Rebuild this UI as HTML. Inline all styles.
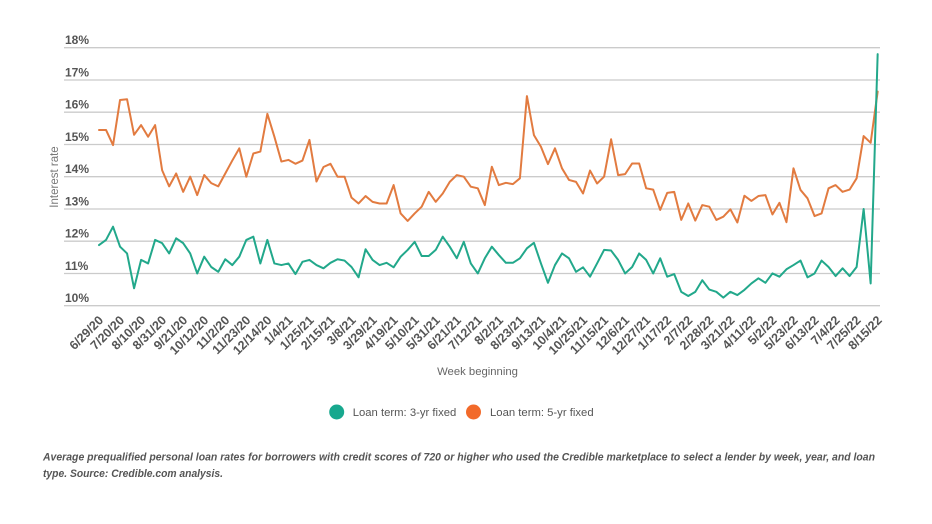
<!DOCTYPE html>
<html><head><meta charset="utf-8"><style>
html,body{margin:0;padding:0;background:#fff;}
svg{display:block;}
text{font-family:"Liberation Sans",sans-serif;}
</style></head><body>
<svg width="932" height="524" viewBox="0 0 932 524" xmlns="http://www.w3.org/2000/svg">
<rect width="932" height="524" fill="#fff"/>
<g stroke="#cbcbcb" stroke-width="1.3">
<line x1="64" y1="47.7" x2="880" y2="47.7"/>
<line x1="64" y1="80" x2="880" y2="80"/>
<line x1="64" y1="112.2" x2="880" y2="112.2"/>
<line x1="64" y1="144.5" x2="880" y2="144.5"/>
<line x1="64" y1="176.7" x2="880" y2="176.7"/>
<line x1="64" y1="209" x2="880" y2="209"/>
<line x1="64" y1="241.2" x2="880" y2="241.2"/>
<line x1="64" y1="273.5" x2="880" y2="273.5"/>
<line x1="64" y1="305.7" x2="880" y2="305.7"/>
</g>
<g font-size="12" fill="#555" font-weight="bold">
<text x="65" y="44.2">18%</text>
<text x="65" y="76.5">17%</text>
<text x="65" y="108.7">16%</text>
<text x="65" y="141">15%</text>
<text x="65" y="173.2">14%</text>
<text x="65" y="205.5">13%</text>
<text x="65" y="237.7">12%</text>
<text x="65" y="270">11%</text>
<text x="65" y="302.2">10%</text>
</g>
<text transform="translate(58,177) rotate(-90)" text-anchor="middle" font-size="11.5" fill="#777">Interest rate</text>

<g transform="translate(99,628.2) scale(7.015,-32.25)" fill="none" stroke-linejoin="round" stroke-linecap="round">
<polyline vector-effect="non-scaling-stroke" stroke="#e27b40" stroke-width="2" points="0,15.45 1,15.45 2,14.98 3,16.38 4,16.4 5,15.3 6,15.6 7,15.24 8,15.6 9,14.2 10,13.7 11,14.1 12,13.53 13,14.0 14,13.43 15,14.05 16,13.8 17,13.7 18,14.1 19,14.5 20,14.88 21,14.0 22,14.72 23,14.78 24,15.95 25,15.24 26,14.47 27,14.52 28,14.4 29,14.5 30,15.14 31,13.85 32,14.3 33,14.4 34,14.0 35,14.0 36,13.35 37,13.17 38,13.4 39,13.22 40,13.17 41,13.17 42,13.74 43,12.86 44,12.63 45,12.86 46,13.07 47,13.53 48,13.22 49,13.48 50,13.84 51,14.05 52,14.0 53,13.69 54,13.64 55,13.12 56,14.31 57,13.74 58,13.81 59,13.77 60,13.95 61,16.5 62,15.29 63,14.93 64,14.39 65,14.88 66,14.26 67,13.9 68,13.84 69,13.48 70,14.19 71,13.79 72,14.0 73,15.16 74,14.05 75,14.08 76,14.41 77,14.41 78,13.64 79,13.6 80,12.97 81,13.5 82,13.53 83,12.66 84,13.17 85,12.64 86,13.12 87,13.07 88,12.66 89,12.76 90,12.99 91,12.58 92,13.41 93,13.25 94,13.4 95,13.43 96,12.83 97,13.19 98,12.59 99,14.26 100,13.59 101,13.33 102,12.78 103,12.86 104,13.64 105,13.74 106,13.53 107,13.6 108,13.95 109,15.26 110,15.05 111,16.64"/>
<polyline vector-effect="non-scaling-stroke" stroke="#22a88b" stroke-width="2" points="0,11.88 1,12.04 2,12.45 3,11.83 4,11.62 5,10.54 6,11.42 7,11.31 8,12.04 9,11.94 10,11.62 11,12.09 12,11.94 13,11.62 14,11.0 15,11.52 16,11.2 17,11.05 18,11.44 19,11.26 20,11.52 21,12.04 22,12.14 23,11.31 24,12.04 25,11.31 26,11.26 27,11.31 28,10.98 29,11.36 30,11.42 31,11.26 32,11.16 33,11.33 34,11.44 35,11.4 36,11.2 37,10.88 38,11.75 39,11.42 40,11.26 41,11.33 42,11.19 43,11.52 44,11.73 45,11.98 46,11.54 47,11.54 48,11.73 49,12.14 50,11.83 51,11.47 52,11.98 53,11.31 54,11.0 55,11.47 56,11.83 57,11.57 58,11.33 59,11.33 60,11.47 61,11.78 62,11.95 63,11.31 64,10.71 65,11.26 66,11.62 67,11.47 68,11.05 69,11.19 70,10.9 71,11.31 72,11.73 73,11.71 74,11.42 75,11.0 76,11.2 77,11.62 78,11.42 79,11.0 80,11.47 81,10.9 82,10.98 83,10.43 84,10.3 85,10.43 86,10.79 87,10.5 88,10.43 89,10.25 90,10.43 91,10.33 92,10.49 93,10.69 94,10.85 95,10.71 96,11.0 97,10.9 98,11.13 99,11.26 100,11.4 101,10.88 102,11.0 103,11.4 104,11.2 105,10.92 106,11.16 107,10.92 108,11.2 109,13.0 110,10.69 111,17.8"/>
</g>

<g font-size="12.5" fill="#555" font-weight="bold" text-anchor="end">
<text transform="translate(104,321) rotate(-45)">6/29/20</text>
<text transform="translate(125,321) rotate(-45)">7/20/20</text>
<text transform="translate(146.1,321) rotate(-45)">8/10/20</text>
<text transform="translate(167.1,321) rotate(-45)">8/31/20</text>
<text transform="translate(188.2,321) rotate(-45)">9/21/20</text>
<text transform="translate(209.2,321) rotate(-45)">10/12/20</text>
<text transform="translate(230.3,321) rotate(-45)">11/2/20</text>
<text transform="translate(251.3,321) rotate(-45)">11/23/20</text>
<text transform="translate(272.4,321) rotate(-45)">12/14/20</text>
<text transform="translate(293.4,321) rotate(-45)">1/4/21</text>
<text transform="translate(314.5,321) rotate(-45)">1/25/21</text>
<text transform="translate(335.5,321) rotate(-45)">2/15/21</text>
<text transform="translate(356.5,321) rotate(-45)">3/8/21</text>
<text transform="translate(377.6,321) rotate(-45)">3/29/21</text>
<text transform="translate(398.6,321) rotate(-45)">4/19/21</text>
<text transform="translate(419.7,321) rotate(-45)">5/10/21</text>
<text transform="translate(440.7,321) rotate(-45)">5/31/21</text>
<text transform="translate(461.8,321) rotate(-45)">6/21/21</text>
<text transform="translate(482.8,321) rotate(-45)">7/12/21</text>
<text transform="translate(503.9,321) rotate(-45)">8/2/21</text>
<text transform="translate(524.9,321) rotate(-45)">8/23/21</text>
<text transform="translate(546,321) rotate(-45)">9/13/21</text>
<text transform="translate(567,321) rotate(-45)">10/4/21</text>
<text transform="translate(588,321) rotate(-45)">10/25/21</text>
<text transform="translate(609.1,321) rotate(-45)">11/15/21</text>
<text transform="translate(630.1,321) rotate(-45)">12/6/21</text>
<text transform="translate(651.2,321) rotate(-45)">12/27/21</text>
<text transform="translate(672.2,321) rotate(-45)">1/17/22</text>
<text transform="translate(693.3,321) rotate(-45)">2/7/22</text>
<text transform="translate(714.3,321) rotate(-45)">2/28/22</text>
<text transform="translate(735.4,321) rotate(-45)">3/21/22</text>
<text transform="translate(756.4,321) rotate(-45)">4/11/22</text>
<text transform="translate(777.4,321) rotate(-45)">5/2/22</text>
<text transform="translate(798.5,321) rotate(-45)">5/23/22</text>
<text transform="translate(819.5,321) rotate(-45)">6/13/22</text>
<text transform="translate(840.6,321) rotate(-45)">7/4/22</text>
<text transform="translate(861.6,321) rotate(-45)">7/25/22</text>
<text transform="translate(882.7,321) rotate(-45)">8/15/22</text>
</g>

<text x="477.5" y="375" text-anchor="middle" font-size="11.3" fill="#666">Week beginning</text>

<circle cx="336.7" cy="412" r="7.5" fill="#17a88e"/>
<text x="352.7" y="416" font-size="11.3" fill="#555">Loan term: 3-yr fixed</text>
<circle cx="473.5" cy="412" r="7.5" fill="#f26a2a"/>
<text x="490" y="416" font-size="11.3" fill="#555">Loan term: 5-yr fixed</text>

<g font-size="11" fill="#555" font-style="italic" font-weight="bold">
<text x="43" y="460.5" textLength="832" lengthAdjust="spacingAndGlyphs">Average prequalified personal loan rates for borrowers with credit scores of 720 or higher who used the Credible marketplace to select a lender by week, year, and loan</text>
<text x="43" y="477" textLength="180" lengthAdjust="spacingAndGlyphs">type. Source: Credible.com analysis.</text>
</g>
</svg>
</body></html>
